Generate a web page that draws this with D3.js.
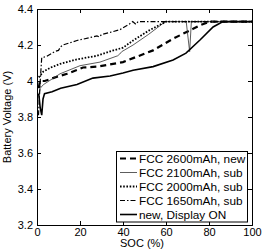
<!DOCTYPE html>
<html>
<head>
<meta charset="utf-8">
<script src="https://cdn.jsdelivr.net/npm/d3@7"></script>
<style>
  body { margin: 0; background: #fff; }
  svg text { font-family: "Liberation Sans", Arial, sans-serif; fill: #000; }
</style>
</head>
<body>
<div id="viz"></div>
<script>
// values: [SOC %, voltage V]
const fcc2600New = [[0.8,3.96],[1.4,4.0],[3.6,4.0],[8.4,4.02],[14,4.04],[21.4,4.075],[27.9,4.08],[34,4.092],[40,4.105],[44.7,4.127],[54,4.17],[63.3,4.235],[72.6,4.29],[75.8,4.31],[80.5,4.33],[100,4.33]];
const fcc2100Sub = [[0.8,3.92],[1.5,3.96],[3,3.98],[10.7,4.04],[20,4.085],[29.3,4.105],[37.5,4.14],[38.5,4.15],[39.4,4.163],[44.7,4.2],[52,4.26],[58.6,4.32],[60,4.33],[69.4,4.33],[71.0,4.163],[71.8,4.33],[100,4.33]];
const fcc2000Sub = [[0.8,4.02],[2.9,4.052],[6.5,4.075],[10.7,4.095],[18.5,4.12],[27.8,4.14],[35.5,4.17],[40,4.185],[44.7,4.225],[52,4.28],[60,4.33],[100,4.33]];
const fcc1650Sub = [[0.7,3.81],[1.5,4.0],[2.2,4.13],[4.3,4.135],[8.4,4.165],[10,4.17],[11,4.19],[12.1,4.2],[18.6,4.225],[27.9,4.25],[29,4.245],[30,4.258],[34,4.27],[38.6,4.285],[43,4.317],[44.5,4.33],[46,4.315],[47,4.33],[100,4.33]];
const displayOn = [[0.8,3.93],[1.5,3.85],[2.2,3.81],[2.8,3.90],[3.5,3.93],[7,3.94],[11,3.96],[18.6,3.98],[26,4.016],[34,4.028],[40,4.044],[44.7,4.06],[54,4.08],[63.3,4.117],[69.3,4.155],[75.8,4.228],[81.9,4.30],[86.5,4.33],[100,4.33]];

const legendLabels = ['FCC 2600mAh, new', 'FCC 2100mAh, sub', 'FCC 2000mAh, sub', 'FCC 1650mAh, sub', 'new, Display ON'];
const xTicks = [0, 20, 40, 60, 80, 100];
const yTicks = [3.2, 3.4, 3.6, 3.8, 4, 4.2, 4.4];

const series = [
  { values: fcc2600New, width: 2.2, dash: '6,4', color: '#000' },
  { values: fcc2100Sub, width: 0.8, dash: null, color: '#333' },
  { values: fcc2000Sub, width: 1.8, dash: '1.6,1.6', color: '#000' },
  { values: fcc1650Sub, width: 1.2, dash: '5,2,1.5,2', color: '#000' },
  { values: displayOn, width: 1.6, dash: null, color: '#000' },
];

const width = 266, height = 249;
const svg = d3.select('#viz').append('svg')
  .attr('width', width)
  .attr('height', height);

const x = d3.scaleLinear().domain([0, 100]).range([37, 252]);
const y = d3.scaleLinear().domain([3.2, 4.4]).range([225, 9]);

// axes with inward ticks
const xAxis = d3.axisBottom(x).tickValues(xTicks).tickSize(-4).tickPadding(3)
  .tickFormat(d3.format('d'));
const yAxis = d3.axisLeft(y).tickValues(yTicks).tickSize(-4).tickPadding(4)
  .tickFormat(d => d === 4 ? '4' : d3.format('.1f')(d));

svg.append('g').attr('transform', `translate(0,${y.range()[0]})`).call(xAxis);
svg.append('g').attr('transform', `translate(${x.range()[0]},0)`).call(yAxis);
svg.append('g').attr('transform', `translate(0,${y.range()[1]})`)
  .call(d3.axisTop(x).tickValues(xTicks).tickSize(-4).tickFormat(''));
svg.append('g').attr('transform', `translate(${x.range()[1]},0)`)
  .call(d3.axisRight(y).tickValues(yTicks).tickSize(-4).tickFormat(''));

svg.selectAll('.domain').attr('stroke', '#000');
svg.selectAll('.tick line').attr('stroke', '#000');
svg.selectAll('.tick text').style('font-size', '11px');

// lines
const line = d3.line().x(d => x(d[0])).y(d => y(d[1]));
svg.selectAll('path.curve')
  .data(series)
  .enter()
  .append('path')
  .classed('curve', true)
  .attr('d', d => line(d.values))
  .attr('fill', 'none')
  .attr('stroke', d => d.color)
  .attr('stroke-width', d => d.width)
  .attr('stroke-dasharray', d => d.dash);

// legend
const lg = svg.append('g');
lg.append('rect')
  .attr('x', 116.5).attr('y', 151.5)
  .attr('width', 131).attr('height', 70.5)
  .attr('fill', '#fff').attr('stroke', '#000').attr('stroke-width', 1);
const rows = lg.selectAll('g.row')
  .data(series)
  .enter()
  .append('g')
  .attr('transform', (d, i) => `translate(0,${158.5 + i * 14})`);
rows.append('line')
  .attr('x1', 120).attr('x2', 137)
  .attr('stroke', d => d.color)
  .attr('stroke-width', d => d.width)
  .attr('stroke-dasharray', d => d.dash);
rows.append('text')
  .attr('x', 139).attr('y', 4)
  .style('font-size', '11.8px')
  .text((d, i) => legendLabels[i]);

// axis titles
svg.append('text')
  .attr('x', 142).attr('y', 247)
  .attr('text-anchor', 'middle')
  .style('font-size', '11px')
  .text('SOC (%)');
svg.append('text')
  .attr('transform', `translate(11,${(y.range()[0] + y.range()[1]) / 2}) rotate(-90)`)
  .attr('text-anchor', 'middle')
  .style('font-size', '11px')
  .text('Battery Voltage (V)');
</script>
</body>
</html>
